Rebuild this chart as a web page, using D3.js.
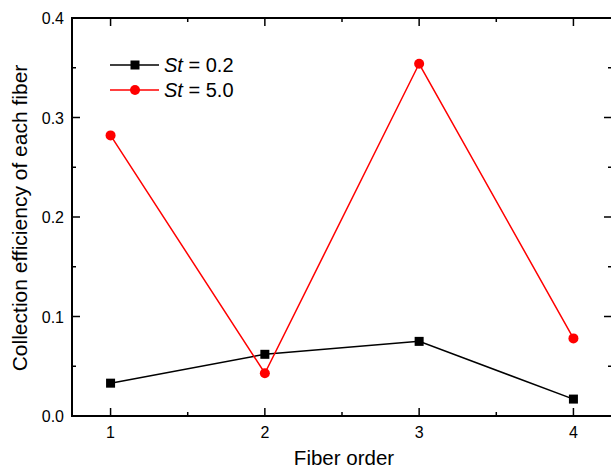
<!DOCTYPE html>
<html>
<head>
<script src="https://d3js.org/d3.v7.min.js"></script>
<style>
  body { margin: 0; background: #fff; }
  text { font-family: "Liberation Sans", Arial, sans-serif; fill: #000; }
</style>
</head>
<body>
<div id="chart"></div>
<script>
var fiberOrder = [1, 2, 3, 4];
var st02 = [0.033, 0.062, 0.075, 0.017];
var st50 = [0.282, 0.043, 0.354, 0.078];
var yTicks = [0.0, 0.1, 0.2, 0.3, 0.4];
var seriesNames = ["0.2", "5.0"];

var w = 611, h = 469;
var pLeft = 72, pRight = 612, pTop = 18, pBottom = 416;

var svg = d3.select("#chart").append("svg")
    .attr("width", w).attr("height", h);

var x = d3.scaleLinear().domain([0.75, 4.25]).range([pLeft, pRight]);
var y = d3.scaleLinear().domain([0, 0.4]).range([pBottom, pTop]);

// frame
svg.append("rect")
    .attr("x", pLeft).attr("y", pTop)
    .attr("width", pRight - pLeft).attr("height", pBottom - pTop)
    .style("fill", "none").style("stroke", "#000").style("stroke-width", 2);

// ticks, all pointing inward
var xMinor = [1.5, 2.5, 3.5];
var yMinor = [0.05, 0.15, 0.25, 0.35];

function tickLines(vals, len, isX) {
    vals.forEach(function(v) {
        if (isX) {
            svg.append("line").attr("x1", x(v)).attr("x2", x(v))
                .attr("y1", pBottom).attr("y2", pBottom - len)
                .style("stroke", "#000").style("stroke-width", 1.5);
            svg.append("line").attr("x1", x(v)).attr("x2", x(v))
                .attr("y1", pTop).attr("y2", pTop + len)
                .style("stroke", "#000").style("stroke-width", 1.5);
        } else {
            svg.append("line").attr("y1", y(v)).attr("y2", y(v))
                .attr("x1", pLeft).attr("x2", pLeft + len)
                .style("stroke", "#000").style("stroke-width", 1.5);
            svg.append("line").attr("y1", y(v)).attr("y2", y(v))
                .attr("x1", pRight).attr("x2", pRight - len)
                .style("stroke", "#000").style("stroke-width", 1.5);
        }
    });
}
tickLines(fiberOrder, 8, true);
tickLines(xMinor, 4, true);
tickLines(yTicks.slice(1, 4), 8, false);
tickLines(yMinor, 4, false);

// tick labels
svg.selectAll(".xl").data(fiberOrder).enter().append("text")
    .attr("x", function(d){ return x(d); })
    .attr("y", 438)
    .attr("text-anchor", "middle")
    .style("font-size", "16px")
    .text(function(d){ return d; });

svg.selectAll(".yl").data(yTicks).enter().append("text")
    .attr("x", pLeft - 8)
    .attr("y", function(d){ return y(d) + 6; })
    .attr("text-anchor", "end")
    .style("font-size", "16px")
    .text(function(d){ return d3.format(".1f")(d); });

// axis titles
svg.append("text")
    .attr("x", 344).attr("y", 465)
    .attr("text-anchor", "middle")
    .style("font-size", "20.5px")
    .text("Fiber order");

svg.append("text")
    .attr("transform", "translate(27,218) rotate(-90)")
    .attr("text-anchor", "middle")
    .style("font-size", "21px")
    .text("Collection efficiency of each fiber");

// series
var line = d3.line()
    .x(function(d, i){ return x(fiberOrder[i]); })
    .y(function(d){ return y(d); });

svg.append("path").datum(st02).attr("d", line)
    .style("fill", "none").style("stroke", "#000").style("stroke-width", 1.5);
svg.append("path").datum(st50).attr("d", line)
    .style("fill", "none").style("stroke", "#ff0000").style("stroke-width", 1.5);

svg.selectAll(".sq").data(st02).enter().append("rect")
    .attr("x", function(d, i){ return x(fiberOrder[i]) - 4.5; })
    .attr("y", function(d){ return y(d) - 4.5; })
    .attr("width", 9).attr("height", 9)
    .style("fill", "#000");

svg.selectAll(".ci").data(st50).enter().append("circle")
    .attr("cx", function(d, i){ return x(fiberOrder[i]); })
    .attr("cy", function(d){ return y(d); })
    .attr("r", 5)
    .style("fill", "#ff0000");

// legend
var lg = [{c: "#000", shape: "square"}, {c: "#ff0000", shape: "circle"}];
lg.forEach(function(s, i) {
    var ly = 65 + i * 25;
    svg.append("line").attr("x1", 110).attr("x2", 159)
        .attr("y1", ly).attr("y2", ly)
        .style("stroke", s.c).style("stroke-width", 1.5);
    if (s.shape == "square") {
        svg.append("rect").attr("x", 130.5).attr("y", ly - 4.5)
            .attr("width", 9).attr("height", 9).style("fill", s.c);
    } else {
        svg.append("circle").attr("cx", 135).attr("cy", ly).attr("r", 5)
            .style("fill", s.c);
    }
    var t = svg.append("text").attr("x", 164).attr("y", ly + 7)
        .style("font-size", "20px");
    t.append("tspan").style("font-style", "italic").text("St");
    t.append("tspan").text(" = " + seriesNames[i]);
});
</script>
</body>
</html>
